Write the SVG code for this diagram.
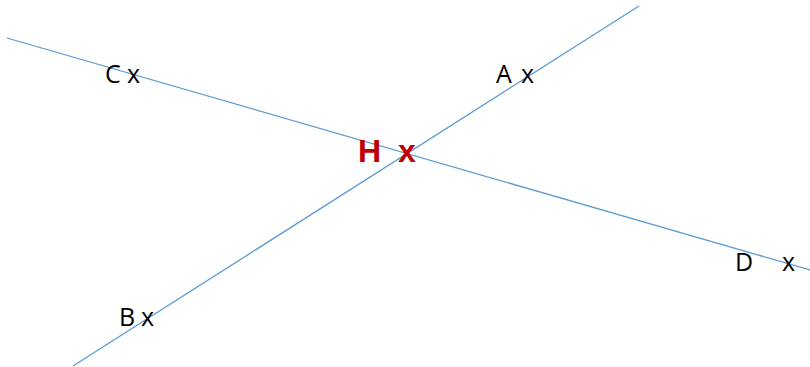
<svg xmlns="http://www.w3.org/2000/svg" width="810" height="367" viewBox="0 0 810 367">
<style>
.ln{stroke:#5B9BD5;stroke-width:1.3;fill:none}
.lb{font-family:"Open Sans","Liberation Sans",sans-serif;font-size:25px;fill:#000}
.h{font-family:"Liberation Sans",sans-serif;font-size:32px;font-weight:bold;fill:#C00000}
</style>
<rect width="810" height="367" fill="#fff"/>
<g id="connectors">
<line class="ln" x1="7" y1="38" x2="810" y2="270"/>
<line class="ln" x1="639" y1="6" x2="73" y2="366"/>
</g>
<g id="C"><text class="lb" x="105" y="83">C</text><text class="lb" x="127" y="83">x</text></g>
<g id="A"><text class="lb" x="496" y="83">A</text><text class="lb" x="521" y="83">x</text></g>
<g id="H"><text class="h" x="358" y="162">H</text><text class="h" x="398" y="162">x</text></g>
<g id="D"><text class="lb" x="735" y="271">D</text><text class="lb" x="782" y="271">x</text></g>
<g id="B"><text class="lb" x="119" y="326">B</text><text class="lb" x="141" y="326">x</text></g>
</svg>
